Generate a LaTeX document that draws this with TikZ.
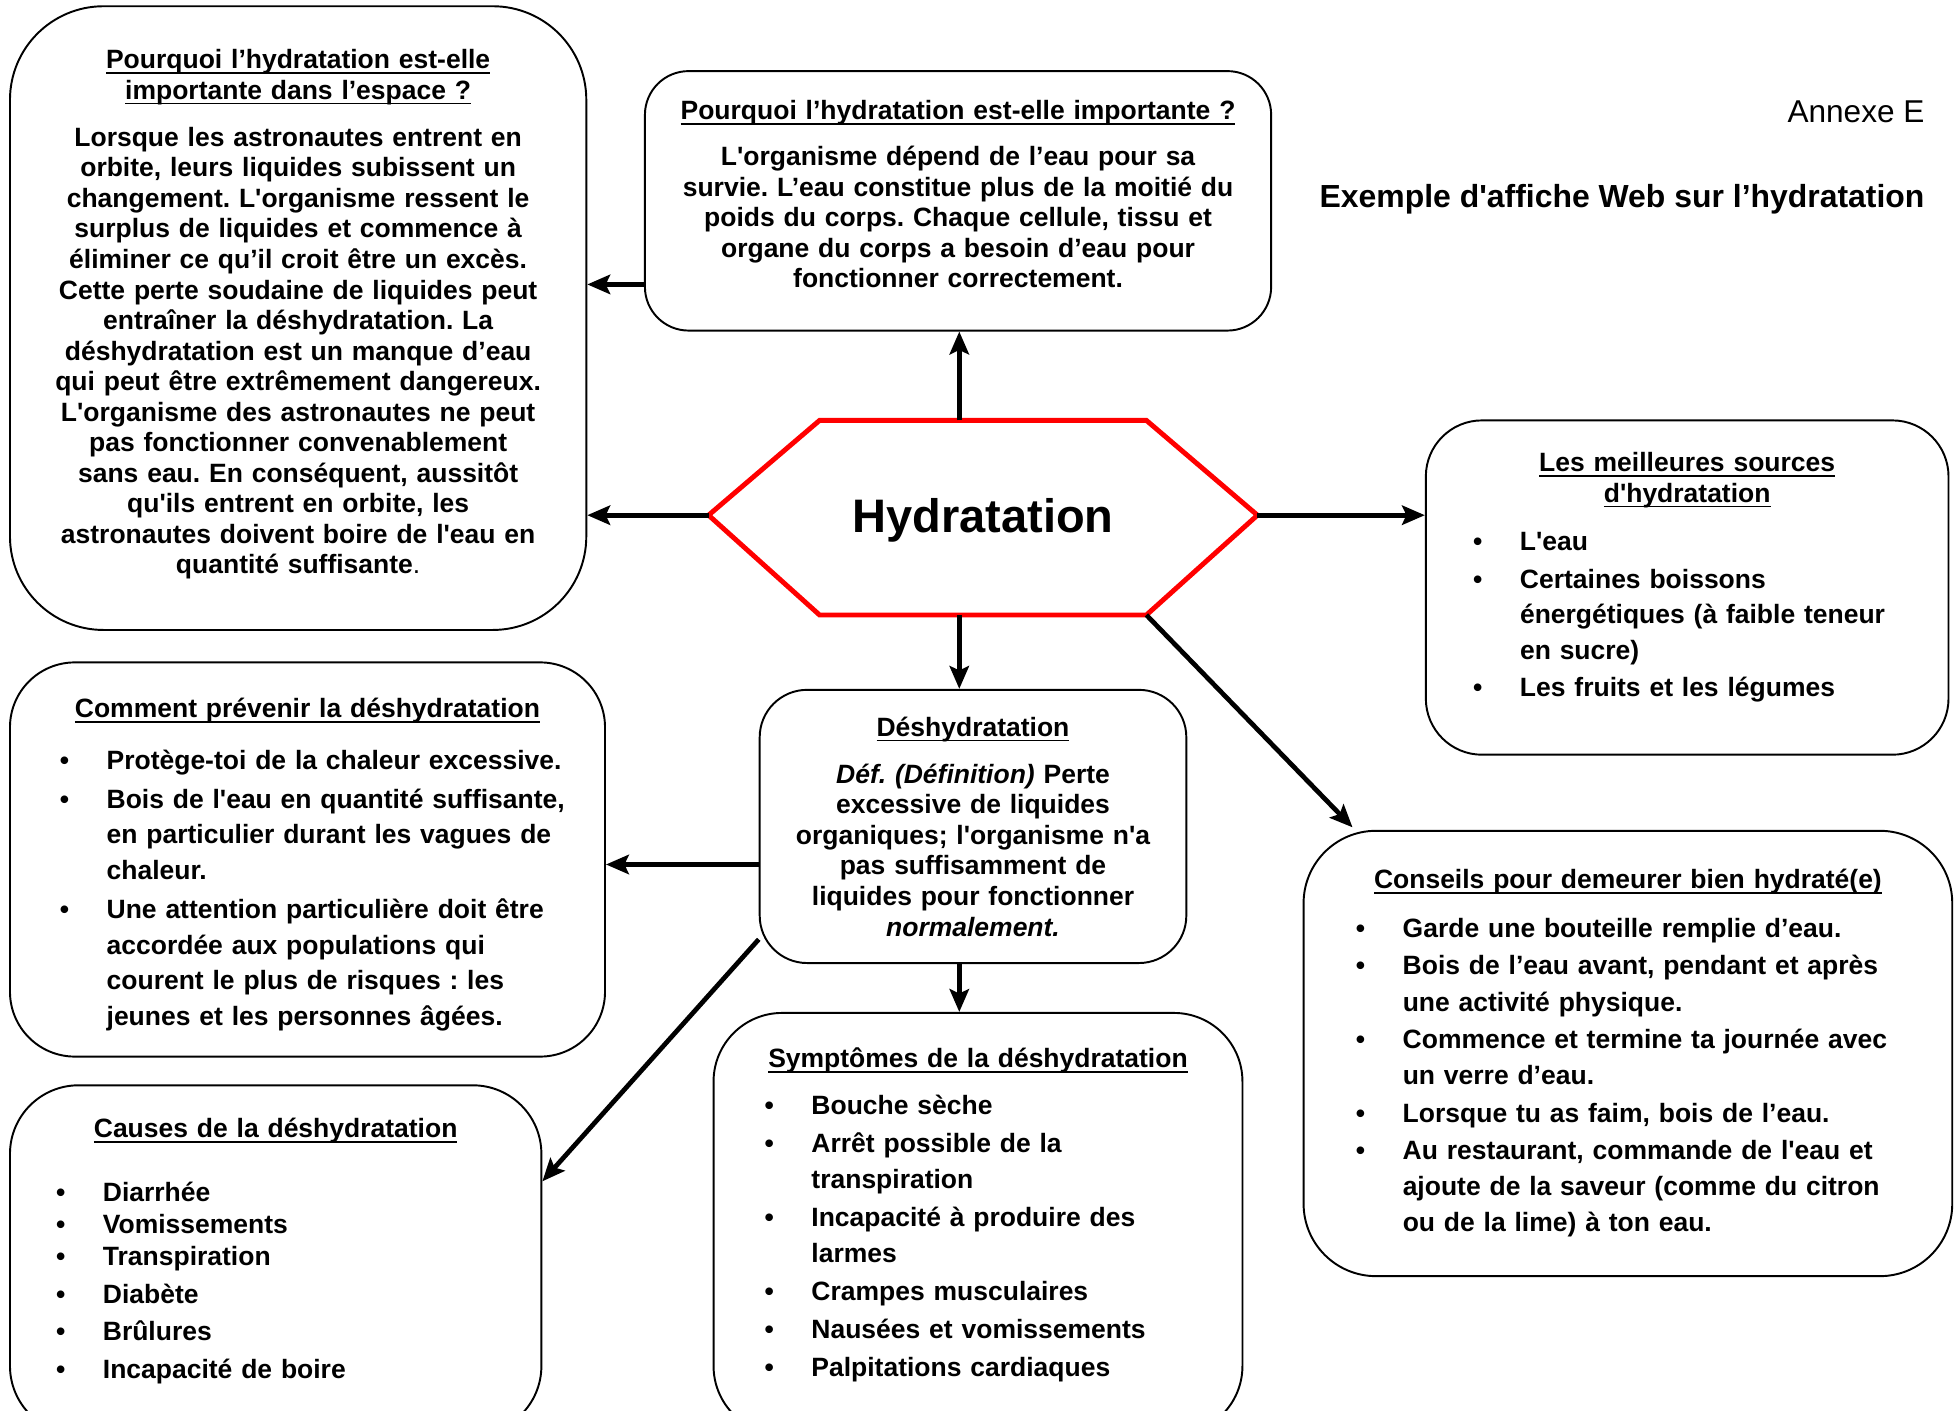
\documentclass[tikz,border=0pt]{standalone}
\usepackage{fontspec}
\setmainfont{Liberation Sans}[Ligatures=TeXOff]
\usetikzlibrary{arrows.meta,calc}
\definecolor{HexClr}{RGB}{255,0,0}
\newlength\pxu
\setlength\pxu{0.025cm}
\newsavebox\ulbox
\newcommand\ulline[1]{\leavevmode\sbox\ulbox{#1}\rlap{\rule[-2.9pt]{\wd\ulbox}{0.9pt}}\usebox\ulbox}
\newcommand\bodyfont{\fontsize{15.1}{17.4}\selectfont\bfseries\frenchspacing}
\newcommand\itm[1]{\par\hangindent=37.5\pxu\noindent\makebox[37.5\pxu][l]{•}#1}
\newcommand\dstrut[1]{\rule[-#1\pxu]{0pt}{0pt}}
\newcommand\hstrut[1]{\rule{0pt}{#1\pxu}}

\begin{document}
\begin{tikzpicture}[x=0.025cm,y=-0.025cm,
  card/.style={draw,line width=1.1pt,inner sep=0pt,align=center,font=\bodyfont},
  arr/.style={line width=2.7pt,-{Stealth[length=13pt,width=11pt,inset=2.5pt]}},
  hex/.style={draw=HexClr,line width=2.8pt,line join=miter}]
\useasboundingbox (0,0) rectangle (1568,1131);
\clip (0,0) rectangle (1568,1131);

\node[anchor=east,inner sep=0pt,font=\fontsize{18}{21}\selectfont] (annexe) at (1543,90) {Annexe E};
\node[anchor=east,inner sep=0pt,font=\fontsize{18.2}{21}\selectfont\bfseries] (affiche) at (1543,160) {Exemple d'affiche Web sur l’hydratation};

\node[card,text width=462\pxu,minimum height=500\pxu,rounded corners=75\pxu] (space) at (239,255) {%
\ulline{Pourquoi l’hydratation est-elle}\\\ulline{importante dans l’espace ?}\par\vspace{13.5\pxu}
Lorsque les astronautes entrent en\\
orbite, leurs liquides subissent un\\
changement. L'organisme ressent le\\
surplus de liquides et commence à\\
éliminer ce qu’il croit être un excès.\\
Cette perte soudaine de liquides peut\\
entraîner la déshydratation. La\\
déshydratation est un manque d’eau\\
qui peut être extrêmement dangereux.\\
L'organisme des astronautes ne peut\\
pas fonctionner convenablement\\
sans eau. En conséquent, aussitôt\\
qu'ils entrent en orbite, les\\
astronautes doivent boire de l'eau en\\
quantité suffisante{\mdseries .}\dstrut{10.5}};

\node[card,text width=502\pxu,minimum height=208\pxu,rounded corners=35\pxu] (mid) at (768,161) {%
\ulline{Pourquoi l’hydratation est-elle importante ?}\par\vspace{12.5\pxu}
L'organisme dépend de l’eau pour sa\\
survie. L’eau constitue plus de la moitié du\\
poids du corps. Chaque cellule, tissu et\\
organe du corps a besoin d’eau pour\\
fonctionner correctement.\dstrut{11}};

\node[card,text width=419\pxu,minimum height=268\pxu,rounded corners=45\pxu] (sources) at (1352.5,471) {%
\ulline{Les meilleures sources}\\\ulline{d'hydratation}\par\vspace{9\pxu}
{\raggedright\leftskip=38\pxu\baselineskip=28.5\pxu\parskip=1.5\pxu
\itm{L'eau}
\itm{Certaines boissons\newline énergétiques (à faible teneur\newline en sucre)}
\itm{Les fruits et les légumes\dstrut{20.5}}\par}};

\node[card,text width=477\pxu,minimum height=316\pxu,rounded corners=52\pxu] (prevent) at (246.5,689) {%
\hstrut{24}\ulline{Comment prévenir la déshydratation}\par\vspace{9.5\pxu}
{\raggedright\leftskip=40\pxu\baselineskip=28.5\pxu\parskip=3\pxu
\itm{Protège-toi de la chaleur excessive.}
\itm{Bois de l'eau en quantité suffisante,\newline en particulier durant les vagues de\newline chaleur.}
\itm{Une attention particulière doit être\newline accordée aux populations qui\newline courent le plus de risques : les\newline jeunes et les personnes âgées.}\par}};

\node[card,text width=342\pxu,minimum height=219\pxu,rounded corners=38\pxu] (deshy) at (780,662.5) {%
\ulline{Déshydratation}\par\vspace{13.5\pxu}
\textit{Déf. (Définition)} Perte\\
excessive de liquides\\
organiques; l'organisme n'a\\
pas suffisamment de\\
liquides pour fonctionner\\
\textit{normalement.}};

\node[card,text width=520\pxu,minimum height=357\pxu,rounded corners=58\pxu] (conseils) at (1305,844.5) {%
\ulline{Conseils pour demeurer bien hydraté(e)}\par\vspace{9\pxu}
{\raggedright\leftskip=42\pxu\baselineskip=29\pxu\parskip=1\pxu
\itm{Garde une bouteille remplie d’eau.}
\itm{Bois de l’eau avant, pendant et après\newline une activité physique.}
\itm{Commence et termine ta journée avec\newline un verre d’eau.}
\itm{Lorsque tu as faim, bois de l’eau.}
\itm{Au restaurant, commande de l'eau et\newline ajoute de la saveur (comme du citron\newline ou de la lime) à ton eau.}\par}};

\node[card,text width=426\pxu,minimum height=280\pxu,rounded corners=55\pxu] (causes) at (221,1010) {%
\ulline{Causes de la déshydratation}\par\vspace{25\pxu}
{\raggedright\leftskip=37\pxu\baselineskip=26\pxu
\itm{Diarrhée}
\itm{Vomissements}
\itm{Transpiration}\par\vspace{4\pxu}
\itm{Diabète}\par\vspace{4\pxu}
\itm{Brûlures}\par\vspace{4\pxu}
\itm{Incapacité de boire\dstrut{19}}\par}};

\node[card,text width=424\pxu,minimum height=338\pxu,rounded corners=55\pxu] (sympt) at (784,981) {%
\ulline{Symptômes de la déshydratation}\par\vspace{7.5\pxu}
{\raggedright\leftskip=41\pxu\baselineskip=28.5\pxu\parskip=2\pxu
\itm{Bouche sèche}
\itm{Arrêt possible de la\newline transpiration}
\itm{Incapacité à produire des\newline larmes}
\itm{Crampes musculaires}
\itm{Nausées et vomissements}
\itm{Palpitations cardiaques\dstrut{19}}\par}};

\coordinate (hl) at (568,413);
\coordinate (htl) at (657,337);
\coordinate (htr) at (919,337);
\coordinate (hr) at (1008,413);
\coordinate (hbr) at (919,493);
\coordinate (hbl) at (657,493);
\coordinate (ht) at (769,337);
\coordinate (hb) at (769,493);
\draw[hex] (hl) -- (htl) -- (htr) -- (hr) -- (hbr) -- (hbl) -- cycle;
\node[font=\fontsize{26.8}{30}\selectfont\bfseries] (hyd) at (788,417) {Hydratation};

\draw[arr] (mid.west |- 0,228) -- (space.east |- 0,228);
\draw[arr] (hl) -- (space.east |- hl);
\draw[arr] (ht) -- (mid.south -| ht);
\draw[arr] (hr) -- (sources.west |- hr);
\draw[arr] (hb) -- (deshy.north -| hb);
\draw[arr] (hbr) -- ($(conseils.north west)+(40,-2)$);
\draw[arr] (deshy.west |- 0,693) -- (prevent.east |- 0,693);
\draw[arr] (deshy.west |- 0,753) -- (causes.east |- 0,947);
\draw[arr] (deshy.south -| hb) -- (sympt.north -| hb);

\end{tikzpicture}
\end{document}
